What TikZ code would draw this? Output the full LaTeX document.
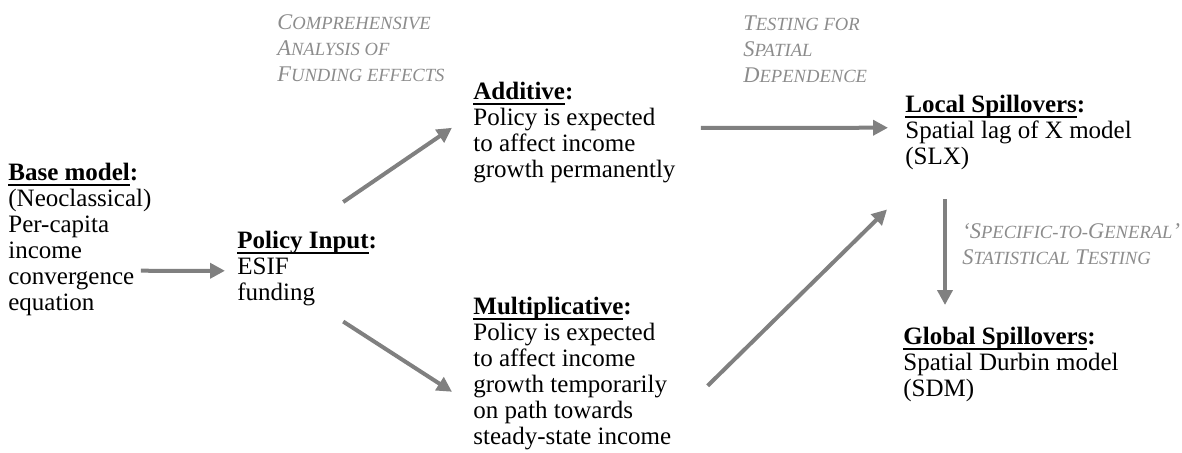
\documentclass[tikz,border=0pt]{standalone}
\usepackage{fontspec}
\setmainfont{Liberation Serif}
\usepackage{tikz}
\usetikzlibrary{arrows.meta}

\definecolor{flowgrey}{HTML}{808080}
\definecolor{notegrey}{HTML}{8C8C8C}

% bold heading, underlined, colon left plain bold
\newcommand\hdr[1]{\setbox0\hbox{\bfseries #1}\rlap{\rule[-2.4pt]{\wd0}{0.9pt}}\box0\textbf{:}}
% smaller capitals for the grey notes
\newcommand\smc[1]{{\fontsize{9.3}{13}\selectfont #1}}

\tikzset{
  txt/.style={anchor=north west, align=left, inner sep=0pt,
    font=\fontsize{12.5}{13}\selectfont},
  note/.style={anchor=north west, align=left, inner sep=0pt, text=notegrey,
    font=\fontsize{11.2}{13}\selectfont\itshape},
  flow/.style={draw=flowgrey, line width=2pt,
    -{Triangle[length=7.5pt,width=7.5pt]}}
}

\begin{document}
\begin{tikzpicture}[x=0.5pt,y=-0.5pt]
  \useasboundingbox (0,0) rectangle (1182,452);

  %% text blocks
  \node[txt] (base) at (8,163) {\hdr{Base model}\\(Neoclassical)\\Per-capita\\income\\convergence\\equation};
  \node[txt] (policy) at (237,231) {\hdr{Policy Input}\\ESIF\\funding};
  \node[txt] (add) at (473,82) {\hdr{Additive}\\Policy is expected\\to affect income\\growth permanently};
  \node[txt] (mult) at (473,297) {\hdr{Multiplicative}\\Policy is expected\\to affect income\\growth temporarily\\on path towards\\steady-state income};
  \node[txt] (local) at (905,95) {\hdr{Local Spillovers}\\Spatial lag of X model\\(SLX)};
  \node[txt] (global) at (903,327) {\hdr{Global Spillovers}\\Spatial Durbin model\\(SDM)};

  % grey notes over the arrows
  \node[note] (comp) at (277,14) {C\smc{OMPREHENSIVE}\\A\smc{NALYSIS OF}\\F\smc{UNDING EFFECTS}};
  \node[note] (test) at (743,15) {T\smc{ESTING FOR}\\S\smc{PATIAL}\\D\smc{EPENDENCE}};
  \node[note] (s2g) at (962,223) {`S\smc{PECIFIC-TO-}G\smc{ENERAL}'\\S\smc{TATISTICAL} T\smc{ESTING}};

  %% arrows
  \draw[flow] ([shift={(-11,31)}]base.east) -- ([shift={(-12,2)}]policy.west);
  \draw[flow] ([shift={(36,-29)}]policy.north) -- ([shift={(-21,-5)}]add.west);
  \draw[flow] ([shift={(36,15)}]policy.south) -- ([shift={(-21,18)}]mult.west);
  \draw[flow] ([shift={(25,-5)}]add.east) -- ([shift={(-17,-5)}]local.west);
  \draw[flow] ([shift={(36,12)}]mult.east) -- ([shift={(-18,39)}]local.south west);
  \draw[flow] ([shift={(40,29)}]local.south west) -- ([shift={(42,-22)}]global.north west);
\end{tikzpicture}
\end{document}
